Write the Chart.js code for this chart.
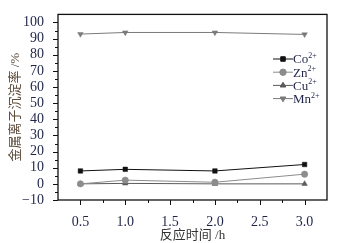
<!DOCTYPE html>
<html>
<head>
<meta charset="utf-8">
<script src="https://cdn.jsdelivr.net/npm/chart.js@4"></script>
<style>
  html, body { margin: 0; padding: 0; background: #fff; }
  #wrap { width: 340px; height: 243px; }
</style>
</head>
<body>
<div id="wrap"><canvas id="c" width="340" height="243"></canvas></div>
<script>
// data
var times = [0.5, 1.0, 2.0, 3.0];
var co = [8, 9, 8, 12];
var zn = [0, 2.3, 1, 6];
var cu = [0, 0.3, 0, 0];
var mn = [92.8, 93.8, 93.8, 92.6];

var xTicks = [0.5, 1.0, 1.5, 2.0, 2.5, 3.0];
var yTicks = [-10, 0, 10, 20, 30, 40, 50, 60, 70, 80, 90, 100];

var serif = '"Liberation Serif", "DejaVu Serif", serif';
var cjk = '"Liberation Serif", "Noto Sans CJK SC", serif';
var tickColor = '#1f2448';

function pts(ys) {
  return times.map(function (t, i) { return { x: t, y: ys[i] }; });
}

var series = [
  { label: 'Co', data: co, color: '#111111', style: 'rect', rot: 0 },
  { label: 'Zn', data: zn, color: '#8c8c8c', style: 'circle', rot: 0 },
  { label: 'Cu', data: cu, color: '#5a5a5a', style: 'triangle', rot: 0 },
  { label: 'Mn', data: mn, color: '#7a7a7a', style: 'triangle', rot: 180 }
];

var datasets = series.map(function (s) {
  return {
    label: s.label,
    data: pts(s.data),
    borderColor: s.color,
    backgroundColor: s.color,
    borderWidth: 1,
    pointStyle: s.style,
    pointRotation: s.rot,
    pointRadius: 3.2,
    pointBorderWidth: 0.5,
    tension: 0
  };
});

// frame, ticks and legend drawn by hand
var framePlugin = {
  id: 'frame',
  afterDraw: function (chart) {
    var ctx = chart.ctx, a = chart.chartArea;
    var xs = chart.scales.x, ys = chart.scales.y;
    ctx.save();
    ctx.strokeStyle = '#111';
    ctx.lineWidth = 1.3;
    ctx.strokeRect(a.left, a.top, a.right - a.left, a.bottom - a.top);
    ctx.lineWidth = 1;
    ctx.beginPath();
    var v;
    for (v = -10; v <= 100; v += 5) {
      var py = Math.round(ys.getPixelForValue(v)) + 0.5;
      var len = (v % 10 === 0) ? 5 : 3;
      ctx.moveTo(a.left, py); ctx.lineTo(a.left - len, py);
    }
    for (v = 0.5; v <= 3.0001; v += 0.25) {
      var px = Math.round(xs.getPixelForValue(v)) + 0.5;
      var l2 = (Math.abs(v * 2 - Math.round(v * 2)) < 0.01) ? 5 : 3;
      ctx.moveTo(px, a.bottom); ctx.lineTo(px, a.bottom + l2);
    }
    ctx.stroke();

    // legend
    var lx = 273, ly = 59, gap = 13.2;
    series.forEach(function (s, i) {
      var y = ly + i * gap;
      ctx.strokeStyle = s.color;
      ctx.beginPath(); ctx.moveTo(lx, y); ctx.lineTo(lx + 20, y); ctx.stroke();
      ctx.fillStyle = s.color;
      Chart.helpers.drawPoint(ctx, {
        pointStyle: s.style, rotation: s.rot, radius: 3.2, borderWidth: 0.5
      }, lx + 10, y);
      ctx.fillStyle = tickColor;
      ctx.font = '13px ' + serif;
      ctx.textBaseline = 'middle';
      ctx.textAlign = 'left';
      ctx.fillText(s.label, lx + 20, y + 1);
      var w = ctx.measureText(s.label).width;
      ctx.font = '8px ' + serif;
      ctx.fillText('2+', lx + 20 + w, y - 3);
    });
    ctx.restore();
  }
};

var config = {
  type: 'line',
  data: { datasets: datasets },
  options: {
    responsive: false,
    animation: false,
    layout: { padding: { top: 10, right: 13, left: 8, bottom: 0 } },
    plugins: { legend: { display: false }, tooltip: { enabled: false } },
    scales: {
      x: {
        type: 'linear',
        min: 0.25,
        max: 3.25,
        afterBuildTicks: function (axis) {
          axis.ticks = xTicks.map(function (v) { return { value: v }; });
        },
        afterFit: function (axis) { axis.height = 43; },
        grid: { display: false },
        border: { display: false },
        ticks: {
          autoSkip: false,
          maxRotation: 0,
          padding: 6,
          color: tickColor,
          font: { family: serif, size: 14 },
          callback: function (v) { return v.toFixed(1); }
        },
        title: {
          display: true,
          text: '反应时间 /h',
          color: '#333',
          font: { family: cjk, size: 13 },
          padding: { top: 0, bottom: 0 }
        }
      },
      y: {
        type: 'linear',
        min: -10,
        max: 105,
        afterBuildTicks: function (axis) {
          axis.ticks = yTicks.map(function (v) { return { value: v }; });
        },
        afterFit: function (axis) { axis.width = 50; },
        grid: { display: false },
        border: { display: false },
        ticks: {
          autoSkip: false,
          padding: 6,
          color: tickColor,
          font: { family: serif, size: 14 },
          callback: function (v) { return v < 0 ? '\u2212' + Math.abs(v) : v; }
        },
        title: {
          display: true,
          text: '金属离子沉淀率 /%',
          color: '#5a4a3a',
          font: { family: cjk, size: 13 },
          padding: { top: 0, bottom: 0 }
        }
      }
    }
  },
  plugins: [framePlugin]
};

var chart = new Chart(document.getElementById('c'), config);
</script>
</body>
</html>
